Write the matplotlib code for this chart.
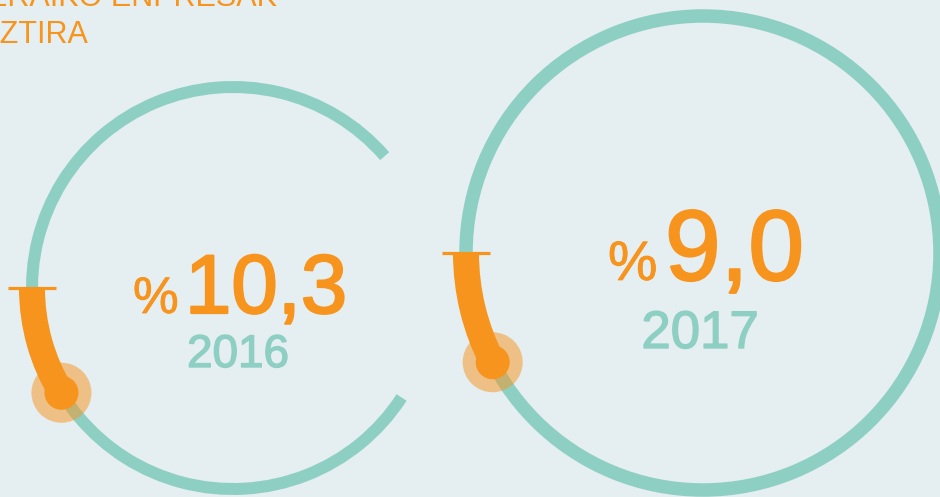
import matplotlib
matplotlib.use("Agg")
import matplotlib.pyplot as plt
from matplotlib.patches import Wedge, Circle
import matplotlib.patheffects as pe
import numpy as np

# ---- data ----
years = ["2016", "2017"]
values = [10.3, 9.0]
title_lines = ["ERAIKO ENPRESAK", "GUZTIRA"]

# ---- style ----
BG = "#e5eef0"
TEAL = "#8ecfc4"
ORANGE = "#f7941d"
FONT = "Liberation Sans"
DEG_PER_UNIT = 3.05

W, H = 940, 497
fig = plt.figure(figsize=(W / 100, H / 100), dpi=100)
fig.patch.set_facecolor(BG)
ax = fig.add_axes([0, 0, 1, 1])
ax.set_xlim(0, W)
ax.set_ylim(0, H)
ax.set_aspect("equal")
ax.axis("off")
ax.set_facecolor(BG)

# layout per gauge: center, radius, ring width, ring gap (theta1, theta2), text sizes/positions
layouts = [
    dict(c=(233, 209), r=201, rw=12, t1=41, t2=327, pct=(133, 184, 37), num=(185, 184, 60),
         yr=(238, 130, 33)),
    dict(c=(703, 244), r=237, rw=13.5, t1=0, t2=360, pct=(608, 217, 40), num=(665, 217, 72),
         yr=(700, 149, 38)),
]

for val, yr, L in zip(values, years, layouts):
    cx, cy = L["c"]
    r = L["r"]
    # teal ring
    ax.add_patch(Wedge((cx, cy), r + L["rw"] / 2, L["t1"], L["t2"], width=L["rw"],
                       facecolor=TEAL, edgecolor="none", zorder=1))
    # orange value arc
    sweep = val * DEG_PER_UNIT
    aw = 26
    ax.add_patch(Wedge((cx, cy), r + aw / 2, 180, 180 + sweep, width=aw,
                       facecolor=ORANGE, edgecolor="none", zorder=2))
    # start tick
    ax.plot([cx - r - 24, cx - r + 24], [cy, cy], color=ORANGE, lw=2.3,
            solid_capstyle="butt", zorder=3)
    # end dot + halo
    ex = cx + r * np.cos(np.radians(180 + sweep))
    ey = cy + r * np.sin(np.radians(180 + sweep))
    ax.add_patch(Circle((ex, ey), 30, facecolor=ORANGE, alpha=0.5, edgecolor="none", zorder=3))
    ax.add_patch(Circle((ex, ey), 17, facecolor=ORANGE, edgecolor="none", zorder=4))
    # texts
    px, py, ps = L["pct"]
    ax.text(px, py, "%", fontsize=ps, color=ORANGE, family=FONT, ha="left", va="baseline",
            path_effects=[pe.withStroke(linewidth=0.6, foreground=ORANGE)])
    nx, ny, ns = L["num"]
    ax.text(nx, ny, f"{val:.1f}".replace(".", ","), fontsize=ns, color=ORANGE, family=FONT,
            ha="left", va="baseline",
            path_effects=[pe.withStroke(linewidth=1.6, foreground=ORANGE)])
    yx, yy, ys = L["yr"]
    ax.text(yx, yy, yr, fontsize=ys, color=TEAL, family=FONT, ha="center", va="baseline",
            path_effects=[pe.withStroke(linewidth=1.0, foreground=TEAL)])

# heading in the top-left corner (cut off by the frame, as in the original)
ax.text(-13, H - 6, title_lines[0], fontsize=22, color=ORANGE, family=FONT,
        ha="left", va="baseline")
ax.text(-45, H - 43, title_lines[1], fontsize=22, color=ORANGE, family=FONT,
        ha="left", va="baseline")

fig.savefig("out.png", dpi=100, facecolor=BG)
